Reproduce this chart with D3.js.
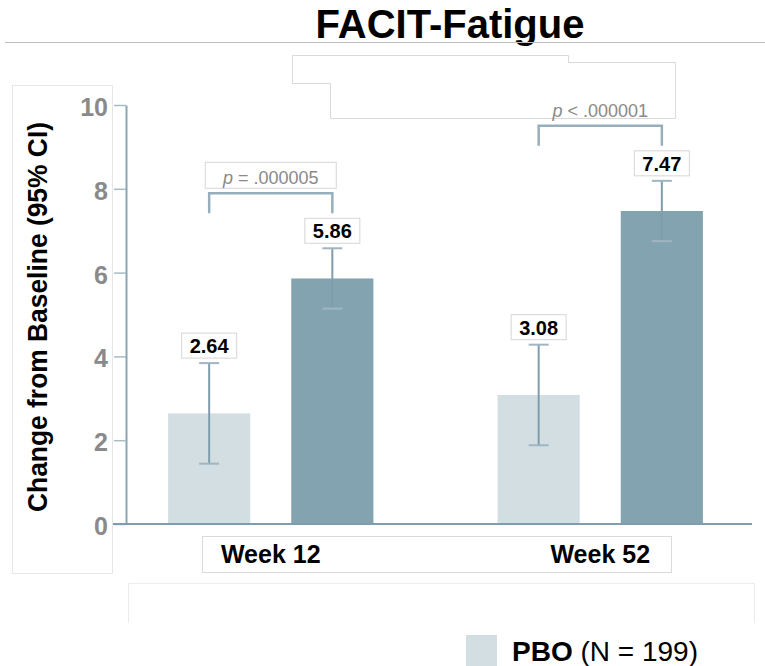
<!DOCTYPE html>
<html><head><meta charset="utf-8">
<script src="https://cdn.jsdelivr.net/npm/d3@7"></script>
<style>body{margin:0;background:#fff;overflow:hidden} text{font-family:"Liberation Sans",Arial,Helvetica,sans-serif}</style>
</head><body><svg id="c" width="765" height="666"></svg>
<script>
const weeks = ["Week 12", "Week 52"];
const series = ["PBO", "Active"];
const pboValues = [2.64, 3.08];
const pboLower = [1.44, 1.88];
const pboUpper = [3.84, 4.28];
const activeValues = [5.86, 7.47];
const activeLower = [5.14, 6.75];
const activeUpper = [6.58, 8.19];
const pOperators = ["=", "<"];
const pNumbers = [".000005", ".000001"];
const yTicks = [0, 2, 4, 6, 8, 10];
const titleText = "FACIT-Fatigue";
const yLabel = "Change from Baseline (95% CI)";
const legendBold = ["PBO"];
const legendRest = [" (N = 199)"];

const colors = {PBO: "#d3dee3", Active: "#84a3b0"};

const rows = [];
weeks.forEach((w, i) => {
  rows.push({week: w, s: "PBO", v: pboValues[i], lo: pboLower[i], hi: pboUpper[i]});
  rows.push({week: w, s: "Active", v: activeValues[i], lo: activeLower[i], hi: activeUpper[i]});
});

const svg = d3.select("#c");
const y = d3.scaleLinear().domain([0, 10]).range([524, 105]);
const x0 = d3.scaleBand().domain(weeks).range([106, 765]);
const x1 = d3.scaleBand().domain(series).range([0, x0.bandwidth()]).paddingInner(0.333).paddingOuter(0.504);

// decorative faint frames from the original slide
const frame = svg.append("g").attr("fill", "none");
frame.append("rect").attr("x", 12.5).attr("y", 85.5).attr("width", 100).attr("height", 488).attr("stroke", "#e6e6e6");
frame.append("path").attr("d", "M292.5,55.5H568.5V62.5H675.5V118.5H330.5V83.5H292.5Z").attr("stroke", "#d9d9d9");
frame.append("rect").attr("x", 202.5).attr("y", 536.5).attr("width", 469).attr("height", 36).attr("stroke", "#dadada");
frame.append("path").attr("d", "M128.5,623V583.5H754.5V623").attr("stroke", "#ececec");

// title
svg.append("text").attr("x", 450).attr("y", 38).attr("text-anchor", "middle")
  .attr("font-size", 40).attr("font-weight", "bold").attr("fill", "#000").text(titleText);
svg.append("line").attr("x1", 5).attr("x2", 765).attr("y1", 42.5).attr("y2", 42.5).attr("stroke", "#bdbdbd");

// y axis
const yAxis = svg.append("g").attr("transform", "translate(126,0)")
  .call(d3.axisLeft(y).tickValues(yTicks).tickSize(12).tickSizeOuter(0).tickPadding(6).tickFormat(d3.format("d")));
yAxis.select(".domain").attr("stroke", "#8aa6b4").attr("stroke-width", 2);
yAxis.selectAll(".tick line").attr("stroke", "#a9bcc6").attr("stroke-width", 1.5);
yAxis.selectAll(".tick text").attr("font-size", 25).attr("font-weight", "bold").attr("fill", "#8a8a8a")
  .attr("dy", "0.42em")
  .attr("font-family", "'Liberation Sans',Arial,sans-serif");

// y label
svg.append("text").attr("transform", "translate(47,317) rotate(-90)").attr("text-anchor", "middle")
  .attr("font-size", 28).attr("font-weight", "bold").attr("fill", "#000")
  .attr("textLength", 390).attr("lengthAdjust", "spacingAndGlyphs").text(yLabel);

// bars
const bars = svg.append("g");
bars.selectAll("rect").data(rows).join("rect")
  .attr("x", d => x0(d.week) + x1(d.s))
  .attr("width", x1.bandwidth())
  .attr("y", d => y(d.v))
  .attr("height", d => y(0) - y(d.v))
  .attr("fill", d => colors[d.s]);

// x axis
const xAxis = svg.append("g").attr("transform", `translate(0,${y(0)})`)
  .call(d3.axisBottom(x0).tickSize(0).tickPadding(21));
xAxis.select(".domain").remove();
xAxis.selectAll(".tick text").attr("font-size", 25).attr("font-weight", "bold").attr("fill", "#000")
  .attr("font-family", "'Liberation Sans',Arial,sans-serif");
svg.append("line").attr("x1", 113).attr("x2", 752).attr("y1", y(0)).attr("y2", y(0))
  .attr("stroke", "#7f9dac").attr("stroke-width", 2);

// error bars
const cx = d => x0(d.week) + x1(d.s) + x1.bandwidth() / 2;
const eb = svg.append("g").attr("stroke", "#7f9dac");
eb.selectAll("line.v").data(rows).join("line").attr("class", "v")
  .attr("x1", cx).attr("x2", cx).attr("y1", d => y(d.lo)).attr("y2", d => y(d.hi)).attr("stroke-width", 2);
eb.selectAll("line.t").data(rows).join("line").attr("class", "t")
  .attr("x1", d => cx(d) - 10).attr("x2", d => cx(d) + 10).attr("y1", d => y(d.hi)).attr("y2", d => y(d.hi))
  .attr("stroke-width", 2).attr("stroke", "#9fb6c2");
eb.selectAll("line.b").data(rows).join("line").attr("class", "b")
  .attr("x1", d => cx(d) - 10).attr("x2", d => cx(d) + 10).attr("y1", d => y(d.lo)).attr("y2", d => y(d.lo))
  .attr("stroke-width", 2).attr("stroke", "#9fb6c2");

// value labels
const lab = svg.append("g");
rows.forEach(d => {
  const bb = y(d.hi) - 5;
  lab.append("rect").attr("x", cx(d) - 27.5).attr("y", bb - 25).attr("width", 55).attr("height", 25)
    .attr("fill", "#fff").attr("stroke", "#d6d6d6");
  lab.append("text").attr("x", cx(d)).attr("y", bb - 5).attr("text-anchor", "middle")
    .attr("font-size", 20).attr("font-weight", "bold").attr("fill", "#000").text(d.v.toFixed(2));
});

// p-value brackets
weeks.forEach((w, i) => {
  const a = rows.find(r => r.week === w && r.s === "PBO");
  const b = rows.find(r => r.week === w && r.s === "Active");
  const tip = y(Math.max(a.hi, b.hi)) - 35;
  const top = tip - 20;
  svg.append("path").attr("d", `M${cx(a)},${tip}V${top}H${cx(b)}V${tip}`)
    .attr("fill", "none").attr("stroke", "#97afbc").attr("stroke-width", 2.5);
  const mid = (cx(a) + cx(b)) / 2;
  if (i === 0) {
    svg.append("rect").attr("x", mid - 65.5).attr("y", top - 31).attr("width", 131).attr("height", 26)
      .attr("fill", "none").attr("stroke", "#d6d6d6");
  }
  const t = svg.append("text").attr("x", mid).attr("y", top - 9).attr("text-anchor", "middle")
    .attr("font-size", 18).attr("fill", "#8a8a8a");
  t.append("tspan").attr("font-style", "italic").text("p");
  t.append("tspan").text(` ${pOperators[i]} ${pNumbers[i]}`);
});

// legend
const lg = svg.append("g");
lg.append("rect").attr("x", 466).attr("y", 635).attr("width", 31).attr("height", 40).attr("fill", colors.PBO);
const lt = lg.append("text").attr("x", 512).attr("y", 661).attr("font-size", 28).attr("fill", "#000");
lt.append("tspan").attr("font-weight", "bold").text(legendBold[0]);
lt.append("tspan").text(legendRest[0]);
</script></body></html>
